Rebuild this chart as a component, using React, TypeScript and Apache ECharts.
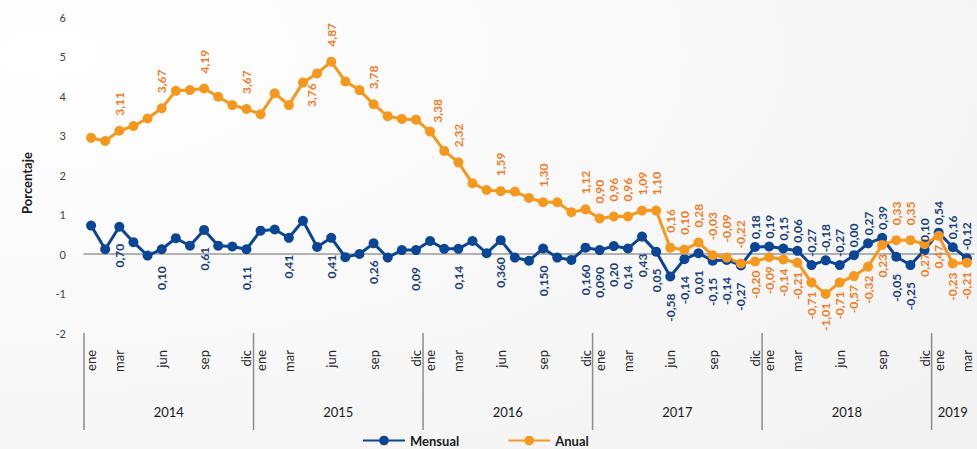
import React, { useEffect, useRef } from "react";
import * as echarts from "echarts";

const monthNames = ["ene", "feb", "mar", "abr", "may", "jun", "jul", "ago", "sep", "oct", "nov", "dic"];
const years = ["2014", "2015", "2016", "2017", "2018", "2019"];
const monthsPerYear = [12, 12, 12, 12, 12, 3];
const shownMonthIdx = [0, 2, 5, 8, 11];

const mensual = [
  0.72, 0.12, 0.69, 0.30, -0.04, 0.12, 0.40, 0.21, 0.61, 0.21, 0.19, 0.12,
  0.59, 0.62, 0.41, 0.84, 0.18, 0.41, -0.08, 0.00, 0.27, -0.09, 0.10, 0.10,
  0.33, 0.13, 0.13, 0.33, 0.02, 0.35, -0.09, -0.17, 0.14, -0.09, -0.15, 0.16,
  0.10, 0.20, 0.14, 0.44, 0.06, -0.57, -0.13, 0.02, -0.17, -0.15, -0.29, 0.18,
  0.19, 0.14, 0.08, -0.28, -0.16, -0.28, -0.03, 0.27, 0.41, -0.07, -0.28, 0.10,
  0.54, 0.17, -0.11,
];

const anual = [
  2.94, 2.86, 3.12, 3.24, 3.43, 3.69, 4.13, 4.15, 4.19, 3.98, 3.77, 3.67,
  3.54, 4.07, 3.77, 4.34, 4.57, 4.87, 4.37, 4.15, 3.79, 3.49, 3.42, 3.40,
  3.10, 2.61, 2.32, 1.79, 1.62, 1.59, 1.58, 1.42, 1.31, 1.31, 1.06, 1.13,
  0.90, 0.95, 0.95, 1.10, 1.10, 0.16, 0.11, 0.29, -0.03, -0.09, -0.24, -0.19,
  -0.08, -0.14, -0.22, -0.72, -1.01, -0.72, -0.56, -0.32, 0.23, 0.35, 0.35, 0.25,
  0.46, -0.24, -0.22,
];

// [index, label text]
const mensualLabels: [number, string][] = [
  [2, "0,70"], [5, "0,10"], [8, "0,61"], [11, "0,11"], [14, "0,41"], [17, "0,41"],
  [20, "0,26"], [23, "0,09"], [26, "0,14"], [29, "0,360"], [32, "0,150"], [35, "0,160"],
  [36, "0,090"], [37, "0,20"], [38, "0,14"], [39, "0,43"], [40, "0,05"], [41, "-0,58"],
  [42, "-0,14"], [43, "0,01"], [44, "-0,15"], [45, "-0,14"], [46, "-0,27"], [47, "0,18"],
  [48, "0,19"], [49, "0,15"], [50, "0,06"], [51, "-0,27"], [52, "-0,18"], [53, "-0,27"],
  [54, "0,00"], [55, "0,27"], [56, "0,39"], [57, "-0,05"], [58, "-0,25"], [59, "0,10"],
  [60, "0,54"], [61, "0,16"], [62, "-0,12"],
];

const anualLabels: [number, string][] = [
  [2, "3,11"], [5, "3,67"], [8, "4,19"], [11, "3,67"], [14, "3,76"], [17, "4,87"],
  [20, "3,78"], [23, "3,38"], [26, "2,32"], [29, "1,59"], [32, "1,30"], [35, "1,12"],
  [36, "0,90"], [37, "0,96"], [38, "0,96"], [39, "1,09"], [40, "1,10"], [41, "0,16"],
  [42, "0,10"], [43, "0,28"], [44, "-0,03"], [45, "-0,09"], [46, "-0,22"], [47, "-0,20"],
  [48, "-0,09"], [49, "-0,14"], [50, "-0,21"], [51, "-0,71"], [52, "-1,01"], [53, "-0,71"],
  [54, "-0,57"], [55, "-0,32"], [56, "0,23"], [57, "0,33"], [58, "0,35"], [59, "0,27"],
  [60, "0,47"], [61, "-0,23"], [62, "-0,21"],
];

// label placement (styling, not data)
const mensualBelow = (i: number) => i <= 46 || i === 57 || i === 58;
const anualBelow = (i: number) => (i >= 47 && i <= 56) || i >= 59;
const anualMoved: Record<number, [number, number]> = { 14: [-17, 23], 23: [-18, 22] };

const BLUE = "#0B4596";
const BLUE_TXT = "#17407E";
const ORANGE = "#F7981E";
const ORANGE_TXT = "#F47A1F";
const FONT = "Lato, 'Open Sans', sans-serif";

const categories: string[] = [];
years.forEach((y, yi) => {
  for (let m = 0; m < monthsPerYear[yi]; m++) categories.push(`${monthNames[m]} ${y}`);
});

function buildData(
  values: number[],
  labels: [number, string][],
  below: (i: number) => boolean,
  dTop: number,
  dBottom: number,
  moved: Record<number, [number, number]> = {}
) {
  return values.map((v, i) => {
    const l = labels.find((x) => x[0] === i);
    if (!l) return { value: v };
    const isBelow = below(i);
    const lab: any = {
      show: true,
      formatter: l[1],
      position: isBelow ? "bottom" : "top",
      distance: isBelow ? dBottom : dTop,
      rotate: 90,
      align: isBelow ? "right" : "left",
      verticalAlign: "middle",
    };
    if (moved[i]) lab.offset = moved[i];
    return { value: v, label: lab };
  });
}

export default function App() {
  const ref = useRef<HTMLDivElement>(null);
  useEffect(() => {
    if (!ref.current) return;
    const chart = echarts.init(ref.current, undefined, { renderer: "svg" });
    const option: any = {
      animation: false,
      backgroundColor: new echarts.graphic.RadialGradient(0.05, 0.12, 2.2, [
        { offset: 0, color: "#ffffff" },
        { offset: 1, color: "#e9e9e9" },
      ]),
      textStyle: { fontFamily: FONT },
      grid: { left: 84, right: 3, top: 17, bottom: 116, containLabel: false },
      legend: {
        data: ["Mensual", "Anual"],
        left: 362,
        top: 434,
        itemWidth: 42,
        itemHeight: 12,
        itemGap: 48,
        padding: 0,
        textStyle: { fontFamily: FONT, fontWeight: "bold", fontSize: 13, color: "#1a1a1a" },
      },
      xAxis: [
        {
          type: "category",
          data: categories,
          position: "bottom",
          boundaryGap: true,
          axisLine: { show: true, onZero: true, lineStyle: { color: "#9a9a9a", width: 1.5 } },
          axisTick: { show: false },
          axisLabel: { show: false },
          splitLine: { show: false },
        },
        {
          type: "category",
          data: categories,
          position: "bottom",
          boundaryGap: true,
          axisLine: { show: false, onZero: false },
          axisTick: { show: false },
          axisLabel: {
            show: true,
            rotate: 90,
            margin: 17,
            fontSize: 13,
            color: "#262626",
            fontFamily: FONT,
            interval: (i: number) => shownMonthIdx.includes(i % 12),
            formatter: (v: string) => v.split(" ")[0],
          },
          splitLine: { show: false },
        },
      ],
      yAxis: {
        type: "value",
        min: -2,
        max: 6,
        interval: 1,
        axisLine: { show: false },
        axisTick: { show: false },
        splitLine: { show: false },
        axisLabel: { margin: 18, fontSize: 11, color: "#404040", fontFamily: FONT },
      },
      series: [
        {
          name: "Mensual",
          type: "line",
          xAxisIndex: 0,
          data: buildData(mensual, mensualLabels, mensualBelow, 3, 12),
          symbol: "circle",
          symbolSize: 10,
          showSymbol: true,
          showAllSymbol: true,
          lineStyle: { width: 3, color: BLUE },
          itemStyle: { color: BLUE },
          label: { fontFamily: FONT, fontWeight: "bold", fontSize: 12, color: BLUE_TXT },
        },
        {
          name: "Anual",
          type: "line",
          xAxisIndex: 0,
          data: buildData(anual, anualLabels, anualBelow, 10, 4, anualMoved),
          symbol: "circle",
          symbolSize: 10,
          showSymbol: true,
          showAllSymbol: true,
          lineStyle: { width: 3, color: ORANGE },
          itemStyle: { color: ORANGE },
          label: { fontFamily: FONT, fontWeight: "bold", fontSize: 12, color: ORANGE_TXT },
        },
      ],
    };
    chart.setOption(option);

    // year separators and year labels, positioned through the axes
    const cx = (i: number) => chart.convertToPixel({ xAxisIndex: 0 }, i) as number;
    const band = cx(1) - cx(0);
    const yBottom = chart.convertToPixel({ yAxisIndex: 0 }, -2) as number;
    const graphics: any[] = [];
    let start = 0;
    years.forEach((y, yi) => {
      const end = start + monthsPerYear[yi] - 1;
      const x0 = cx(start) - band / 2;
      const x1 = cx(end) + band / 2;
      graphics.push({
        type: "line",
        shape: { x1: x0, y1: yBottom, x2: x0, y2: yBottom + 97 },
        style: { stroke: "#8c8c8c", lineWidth: 1.5 },
        silent: true,
      });
      graphics.push({
        type: "text",
        x: (x0 + x1) / 2,
        y: yBottom + 79,
        style: {
          text: y,
          fontFamily: FONT,
          fontSize: 13,
          fill: "#1a1a1a",
          align: "center",
          verticalAlign: "middle",
        },
        silent: true,
      });
      start = end + 1;
    });
    graphics.push({
      type: "text",
      x: 27,
      y: 183,
      rotation: Math.PI / 2,
      style: {
        text: "Porcentaje",
        fontFamily: FONT,
        fontSize: 13,
        fontWeight: "bold",
        fill: "#1a1a1a",
        align: "center",
        verticalAlign: "middle",
      },
      silent: true,
    });
    chart.setOption({ graphic: graphics });

    return () => chart.dispose();
  }, []);
  return (
    <div
      ref={ref}
      style={{ position: "absolute", left: 0, top: 0, width: 977, height: 449 }}
    />
  );
}
